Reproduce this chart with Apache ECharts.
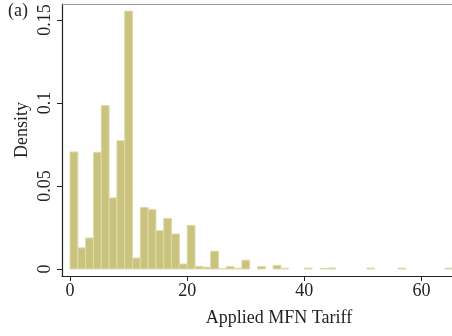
<!DOCTYPE html>
<html>
<head>
<meta charset="utf-8">
<script src="https://cdn.jsdelivr.net/npm/echarts@6/dist/echarts.min.js"></script>
<style>
  html, body { margin: 0; padding: 0; background: #fff; }
  #chart { width: 452px; height: 336px; }
</style>
</head>
<body>
<div id="chart"></div>
<script>
// histogram bins: width in tariff points, density per bin (bin i starts at i * binWidth)
var binWidth = 4 / 3;
var densities = [
  0.0705, 0.0127, 0.0187, 0.0703, 0.0984, 0.0428, 0.0773, 0.1554,
  0.0066, 0.0371, 0.0359, 0.0231, 0.0305, 0.0211, 0.0030, 0.0263,
  0.0016, 0.0011, 0.0107, 0.0003, 0.0014, 0.0004, 0.0053, 0,
  0.0015, 0, 0.0022, 0.0004, 0, 0,
  0.0005, 0, 0.0003, 0.0006, 0, 0, 0, 0,
  0.0005, 0, 0, 0, 0.0005, 0, 0, 0, 0, 0, 0.0005
];
var xTicks = [0, 20, 40, 60];
var yTicks = [0, 0.05, 0.1, 0.15];
var xTitle = 'Applied MFN Tariff';
var yTitle = 'Density';
var panelLabel = '(a)';

var bins = densities.map(function (d, i) {
  return [i * binWidth, (i + 1) * binWidth, d];
});

var font = '"Liberation Serif", "DejaVu Serif", serif';
var myChart = echarts.init(document.getElementById('chart'));

var option = {
  animation: false,
  grid: {
    left: 62,
    right: 0,
    top: 4,
    bottom: 60
  },
  xAxis: [{
    type: 'value',
    min: -1.37,
    max: 65.2,
    axisLine: { onZero: false, lineStyle: { color: '#222', width: 1.2 } },
    axisTick: {
      length: 5,
      lineStyle: { color: '#222' },
      customValues: xTicks
    },
    axisLabel: {
      margin: 6,
      color: '#222',
      fontFamily: font,
      fontSize: 18,
      customValues: xTicks
    },
    splitLine: { show: false }
  }, {
    type: 'value',
    position: 'top',
    min: -1.37,
    max: 65.2,
    axisLine: { onZero: false, lineStyle: { color: '#999', width: 1 } },
    axisTick: { show: false },
    axisLabel: { show: false },
    splitLine: { show: false }
  }],
  yAxis: {
    type: 'value',
    min: -0.00422,
    max: 0.15964,
    axisLine: { show: true, onZero: false, lineStyle: { color: '#222', width: 1.2 } },
    axisTick: {
      show: true,
      length: 5,
      lineStyle: { color: '#222' },
      customValues: yTicks
    },
    axisLabel: {
      rotate: 90,
      margin: 8,
      color: '#222',
      fontFamily: font,
      fontSize: 18,
      customValues: yTicks,
      formatter: function (v) { return String(v); }
    },
    splitLine: { show: false }
  },
  graphic: [{
    type: 'text',
    left: 8,
    top: 2,
    style: { text: panelLabel, fill: '#222', font: '18px ' + font }
  }, {
    type: 'text',
    x: 22,
    y: 130,
    rotation: Math.PI / 2,
    style: {
      text: yTitle, fill: '#222', font: '18px ' + font,
      align: 'center', verticalAlign: 'middle'
    }
  }, {
    type: 'text',
    x: 279,
    y: 318,
    style: {
      text: xTitle, fill: '#222', font: '18px ' + font,
      align: 'center', verticalAlign: 'middle'
    }
  }],
  series: [{
    type: 'custom',
    xAxisIndex: 0,
    renderItem: function (params, api) {
      var v = api.value(2);
      if (!v) return null;
      var p0 = api.coord([api.value(0), v]);
      var p1 = api.coord([api.value(1), 0]);
      return {
        type: 'rect',
        shape: { x: p0[0], y: p0[1], width: p1[0] - p0[0], height: p1[1] - p0[1] },
        style: { fill: '#C9C37E', stroke: '#DEDAAA', lineWidth: 1 }
      };
    },
    encode: { x: [0, 1], y: 2 },
    data: bins
  }]
};
myChart.setOption(option);
</script>
</body>
</html>
